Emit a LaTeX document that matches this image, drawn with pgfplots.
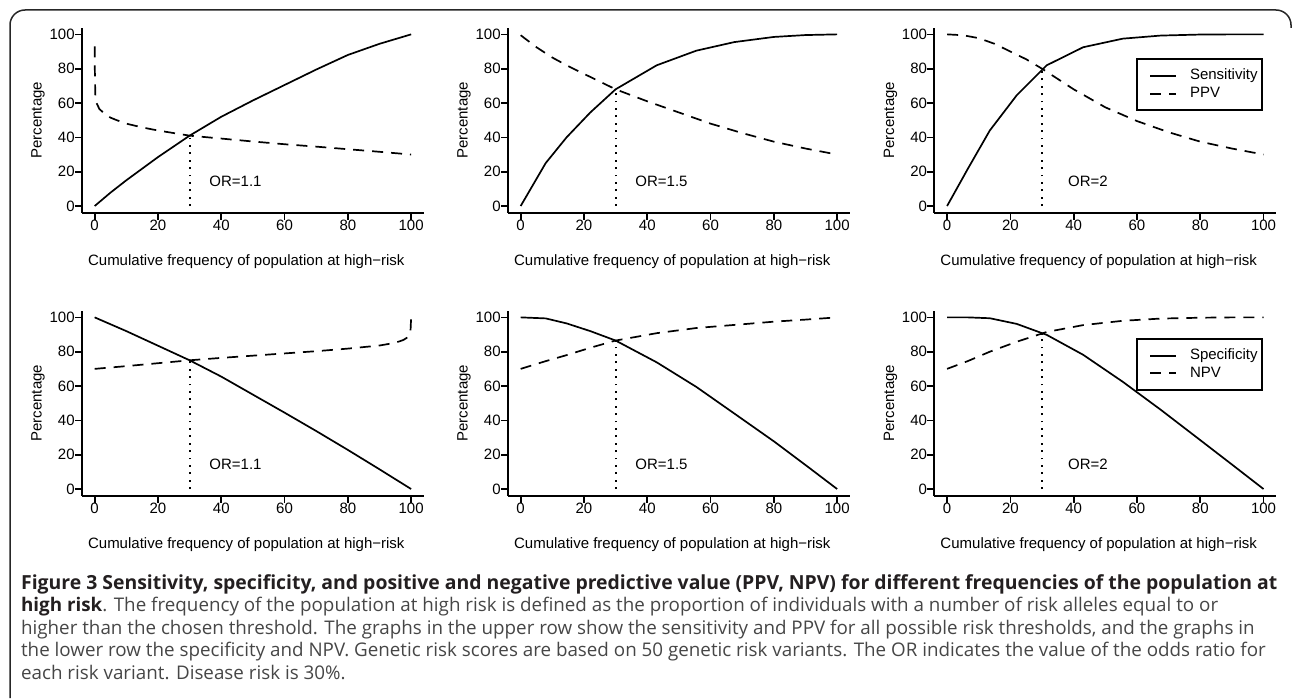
\documentclass[border=0pt]{standalone}
\usepackage{fontspec}
\setmainfont{Liberation Sans}
\newfontfamily\capfont{Open Sans}
\usepackage{pgfplots}
\pgfplotsset{compat=1.18}

\definecolor{captxt}{RGB}{70,70,70}
\definecolor{capbold}{RGB}{35,31,32}

\pgfplotsset{
  rpanel/.style={
    scale only axis, width=170.9pt, height=92.7pt,
    xmin=-4, xmax=104, ymin=-4, ymax=104,
    axis x line*=bottom, axis y line*=left,
    axis line style={line width=1pt},
    xtick={0,20,40,60,80,100}, ytick={0,20,40,60,80,100},
    tick align=outside, major tick length=3.5pt,
    tick style={black, line width=0.85pt},
    tick label style={font=\fontsize{7.5}{9}\selectfont, inner sep=0pt},
    /pgf/number format/assume math mode=true,
    xlabel={Cumulative frequency of population at high−risk},
    ylabel={Percentage},
    every axis x label/.style={at={(axis description cs:0.5,0)}, anchor=base, yshift=-26.35pt, xshift=-3.3pt,
      font=\fontsize{7.5}{9}\selectfont, inner sep=0pt},
    every axis y label/.style={at={([xshift=-20.2pt]axis description cs:0,0.5)}, anchor=base, rotate=90,
      font=\fontsize{7.5}{9}\selectfont, inner sep=0pt},
    legend image code/.code={\path (0pt,0pt); \draw[##1] (4.15pt,0pt) -- (17.15pt,0pt);},
    legend cell align=left,
    legend style={draw=black, line width=1pt, font=\fontsize{7.5}{9}\selectfont,
      inner xsep=2pt, inner ysep=4.85pt, row sep=1.8pt,
      nodes={inner sep=0pt, text height=5.4pt, text depth=1.6pt},
      /tikz/every odd column/.append style={column sep=6.35pt}},
  },
  solidc/.style={black, line width=0.85pt},
  dashc/.style={black, line width=0.85pt, dash pattern=on 5.5pt off 4pt},
  cut/.style={black, line width=0.9pt, dash pattern=on 0.9pt off 2.8pt, forget plot},
}
\tikzset{orlab/.style={font=\fontsize{7.5}{9}\selectfont, inner sep=0pt}}

\begin{document}
\begin{tikzpicture}
\useasboundingbox (0,0) rectangle (646.5pt,349pt);
\draw[black!85, line width=0.75pt, rounded corners=7.5pt] (5pt,0pt) -- (5pt,344pt) -- (645.5pt,344pt) -- (645.5pt,335pt);

% ---- top row: sensitivity and PPV ----
\begin{axis}[rpanel, at={(41pt,242.55pt)}, anchor=south west]
  \addplot[solidc] coordinates {(0,0) (5,7.8) (10,15) (20,28.5) (30,41) (40,52) (50,61.5) (60,70.5) (70,79.5) (80,88) (90,94.5) (100,100)};
  \addplot[dashc] coordinates {(0,93) (0.05,80) (0.2,65) (0.6,60) (1.5,56.5) (3,54) (5,51.5) (7,50) (10,48) (15,45.8) (20,44) (30,41) (40,39.3) (50,37.6) (60,36) (70,34.6) (80,33.1) (90,31.6) (100,30)};
  \addplot[cut] coordinates {(30,0) (30,41)};
  \node[orlab] at (axis cs:44.5,14.3) {OR=1.1};
\end{axis}

\begin{axis}[rpanel, at={(254pt,242.55pt)}, anchor=south west]
  \addplot[solidc] coordinates {(0,0) (7.9,25) (14.5,40) (22,54.5) (30,68) (43,82) (55.5,90.5) (67.5,95.5) (80,98.5) (90,99.6) (100,100)};
  \addplot[dashc] coordinates {(0,99.5) (5,92.5) (10,86.5) (15,81.5) (20,77) (25,72.5) (30,68) (40,61) (50,54.5) (60,48) (70,42.5) (80,37.5) (90,33.5) (100,30)};
  \addplot[cut] coordinates {(30,0) (30,68)};
  \node[orlab] at (axis cs:44.5,14.3) {OR=1.5};
\end{axis}

\begin{axis}[rpanel, at={(467.2pt,242.55pt)}, anchor=south west,
  legend style={at={(axis cs:59.8,86)}, anchor=north west}]
  \addplot[solidc] coordinates {(0,0) (6.5,21.5) (13.5,44) (22,64.5) (31.5,82) (43,92.5) (55.5,97.5) (67.5,99.3) (80,99.9) (90,100) (100,100)};
  \addlegendentry{Sensitivity}
  \addplot[dashc] coordinates {(0,100) (5,99.5) (10,97.8) (15,94.5) (20,90) (25,85.5) (30,80) (40,68) (50,57.5) (60,49.5) (70,43) (80,37.5) (90,33.5) (100,30)};
  \addlegendentry{PPV}
  \addplot[cut] coordinates {(30,0) (30,80)};
  \node[orlab] at (axis cs:44.5,14.3) {OR=2};
\end{axis}

% ---- bottom row: specificity and NPV ----
\begin{axis}[rpanel, at={(41pt,101.05pt)}, anchor=south west]
  \addplot[solidc] coordinates {(0,100) (10,92) (20,83.5) (30,75) (40,65.5) (50,55) (60,44.5) (70,33.8) (80,22.8) (90,11.5) (100,0)};
  \addplot[dashc] coordinates {(0,70) (10,71.6) (20,73.3) (30,75) (40,76.4) (50,77.7) (60,79) (70,80.3) (80,81.8) (90,83.6) (95,85.2) (97.5,86.8) (99,88.5) (99.8,92) (100,100)};
  \addplot[cut] coordinates {(30,0) (30,75)};
  \node[orlab] at (axis cs:44.5,14.3) {OR=1.1};
\end{axis}

\begin{axis}[rpanel, at={(254pt,101.05pt)}, anchor=south west]
  \addplot[solidc] coordinates {(0,100) (7.9,99.4) (14.5,96.5) (22,92) (30,86.5) (43,73.8) (55.5,59.5) (67.5,44) (80,27.8) (90,14) (100,0)};
  \addplot[dashc] coordinates {(0,70) (7.9,74.5) (14.5,78) (22,82.3) (30,86.5) (43,90.8) (55.5,93.8) (67.5,95.6) (80,97.5) (90,98.7) (100,100)};
  \addplot[cut] coordinates {(30,0) (30,86.5)};
  \node[orlab] at (axis cs:44.5,14.3) {OR=1.5};
\end{axis}

\begin{axis}[rpanel, at={(467.2pt,101.05pt)}, anchor=south west,
  legend style={at={(axis cs:59.8,88)}, anchor=north west}]
  \addplot[solidc] coordinates {(0,100) (6.5,100) (13.5,99.5) (22,96.2) (31.5,89.8) (43,78.2) (55.5,62.5) (67.5,46.2) (80,28.5) (90,14.3) (100,0)};
  \addlegendentry{Specificity}
  \addplot[dashc] coordinates {(0,70) (6.5,74.5) (13.5,80) (22,85.8) (31.5,91.5) (43,95.5) (55.5,98) (67.5,99.3) (80,99.8) (90,100) (100,100)};
  \addlegendentry{NPV}
  \addplot[cut] coordinates {(30,0) (30,90.6)};
  \node[orlab] at (axis cs:44.5,14.3) {OR=2};
\end{axis}

% ---- caption ----
\begin{scope}[every node/.style={anchor=base west, inner sep=0pt, font=\capfont\fontsize{9.4}{11.25}\selectfont}]
\node[text=capbold, font=\capfont\fontsize{9.7}{11.25}\selectfont] at (10.35pt,54.35pt) {\bfseries Figure 3 Sensitivity, specificity, and positive and negative predictive value (PPV, NPV) for different frequencies of the population at};
\node[text=captxt] at (10.35pt,43.15pt) {\textcolor{capbold}{\bfseries high risk}. The frequency of the population at high risk is defined as the proportion of individuals with a number of risk alleles equal to or};
\node[text=captxt] at (10.35pt,31.85pt) {higher than the chosen threshold. The graphs in the upper row show the sensitivity and PPV for all possible risk thresholds, and the graphs in};
\node[text=captxt] at (10.35pt,20.65pt) {the lower row the specificity and NPV. Genetic risk scores are based on 50 genetic risk variants. The OR indicates the value of the odds ratio for};
\node[text=captxt] at (10.35pt,9.35pt) {each risk variant. Disease risk is 30\%.};
\end{scope}
\end{tikzpicture}
\end{document}
